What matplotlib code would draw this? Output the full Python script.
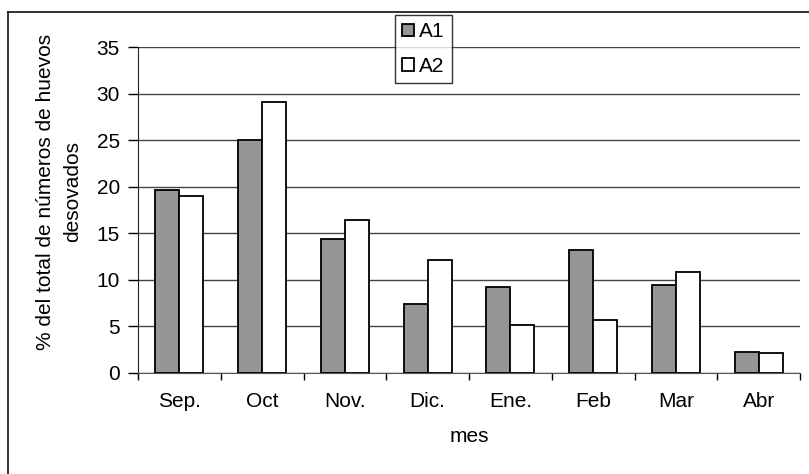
import numpy as np
import matplotlib.pyplot as plt
from matplotlib.lines import Line2D

plt.rcParams['font.family'] = ['Liberation Sans', 'DejaVu Sans']

meses = ['Sep.', 'Oct', 'Nov.', 'Dic.', 'Ene.', 'Feb', 'Mar', 'Abr']
a1 = [19.7, 25.0, 14.4, 7.4, 9.2, 13.2, 9.4, 2.3]
a2 = [19.0, 29.1, 16.4, 12.1, 5.2, 5.7, 10.8, 2.1]
yticks = [0, 5, 10, 15, 20, 25, 30, 35]

W, H = 809, 474
FS = 15
fig = plt.figure(figsize=(W / 100, H / 100), dpi=100)
ax = fig.add_axes([138 / W, 1 - 373 / H, (800 - 138) / W, (373 - 47) / H])

x = np.arange(len(meses))
bw = 0.29
ax.bar(x - bw / 2, a1, bw, color='#969696', edgecolor='black', linewidth=1.3, label='A1', zorder=3)
ax.bar(x + bw / 2, a2, bw, color='white', edgecolor='black', linewidth=1.3, label='A2', zorder=3)

ax.set_xlim(-0.5, len(meses) - 0.5)
ax.set_ylim(0, 35)
ax.set_yticks(yticks)
ax.yaxis.grid(True, color='#444444', linewidth=1.0, zorder=0)

# category boundaries get the ticks, labels sit at the centres
ax.set_xticks(np.arange(-0.5, len(meses)), [''] * (len(meses) + 1))
ax.set_xticks(x, meses, minor=True)
ax.tick_params(axis='x', which='major', direction='out', length=5, width=1)
ax.tick_params(axis='x', which='minor', length=0, pad=14, labelsize=FS)
ax.tick_params(axis='y', direction='out', length=7, width=1, pad=6, labelsize=FS)

for s in ['top', 'right']:
    ax.spines[s].set_visible(False)
ax.spines['left'].set_color('#222222')
ax.spines['bottom'].set_color('#555555')

fig.text(59 / W, 1 - 192 / H, '% del total de números de huevos\ndesovados',
         rotation=90, ha='center', va='center', multialignment='center', fontsize=FS,
         linespacing=1.55)
fig.text(469 / W, 1 - 437 / H, 'mes', ha='center', va='center', fontsize=FS)

leg = ax.legend(loc='upper left', bbox_to_anchor=(395 / W, 1 - 15 / H), bbox_transform=fig.transFigure,
                frameon=True, fancybox=False, edgecolor='black', fontsize=FS,
                handlelength=0.55, handleheight=0.55, handletextpad=0.25, labelspacing=0.75,
                borderpad=0.35, borderaxespad=0)
leg.get_frame().set_linewidth(1.0)
leg.set_zorder(5)

# outer chart frame (cut off at the right and bottom)
fig.add_artist(Line2D([8 / W, 8 / W], [0, 1 - 12 / H], color='#222222', linewidth=1.3))
fig.add_artist(Line2D([8 / W, 1], [1 - 12 / H, 1 - 12 / H], color='#222222', linewidth=1.3))

fig.savefig('out.png', dpi=100)
